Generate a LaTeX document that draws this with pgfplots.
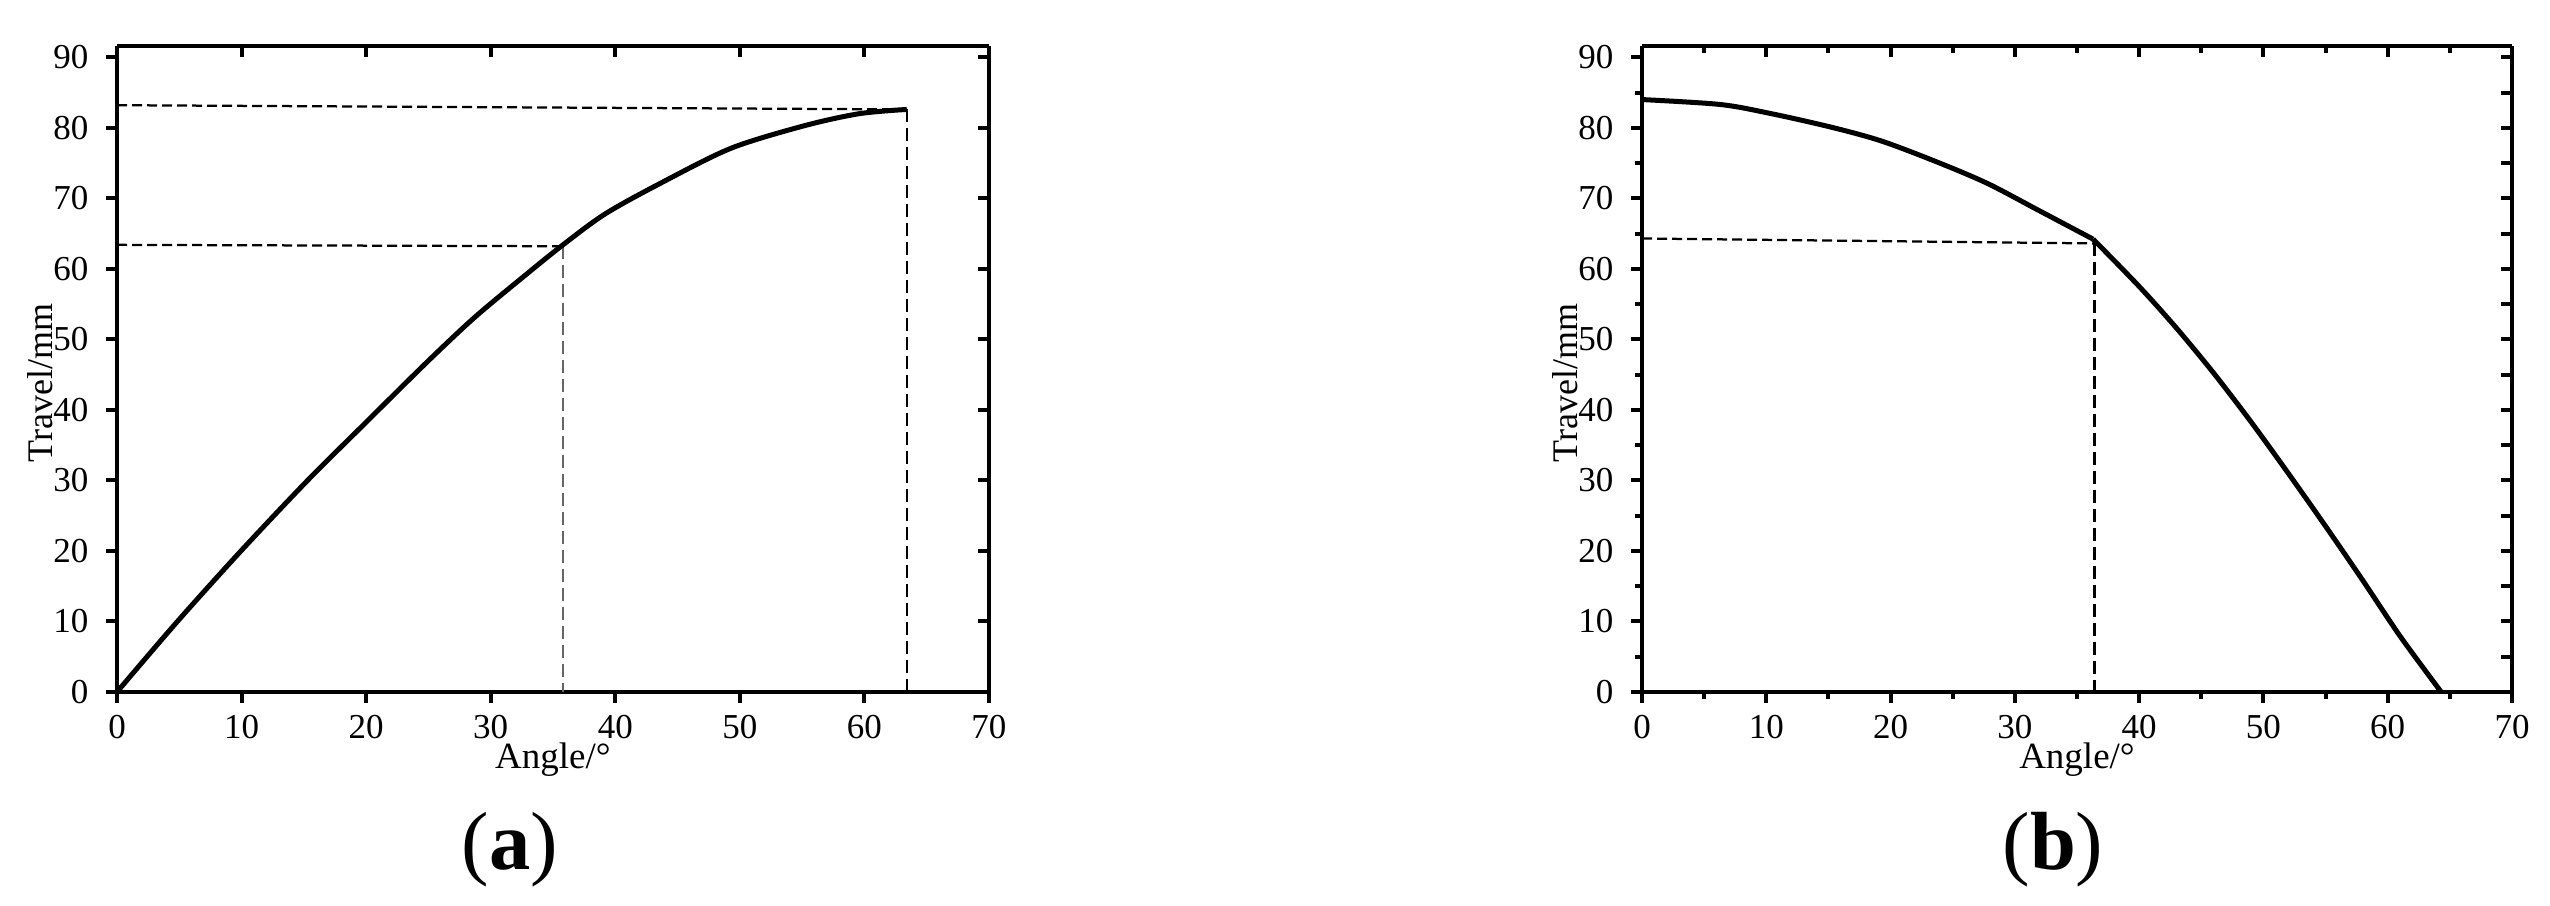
\documentclass[border=0pt]{standalone}
\usepackage{fontspec}
\setmainfont{Liberation Serif}
\usepackage{pgfplots}
\pgfplotsset{compat=1.18}

\pgfplotsset{
  base/.style={
    scale only axis, width=174.4pt, height=129.2pt,
    xmin=0, xmax=70, ymin=0, ymax=91.6,
    anchor=south west, clip=false,
    /pgf/number format/assume math mode=true,
    tick label style={font=\fontsize{7}{8}\selectfont},
    xticklabel style={yshift=1pt},
    axis line style={line width=0.8pt,-},
    every tick/.style={black, line width=0.8pt},
    major tick length=2.2pt, minor tick length=1.4pt,
    xtick={0,10,...,70}, ytick={0,10,...,90},
    every axis x label/.style={at={(axis description cs:0.5,0)}, anchor=base, yshift=-15.3pt,
      font=\fontsize{7.4}{8}\selectfont},
    every axis y label/.style={at={(axis description cs:-0.088,0.478)}, anchor=center, rotate=90,
      font=\fontsize{7.2}{8}\selectfont},
  },
  over/.style={base, axis x line*=top, axis y line*=right, tick align=inside,
    xticklabels={}, yticklabels={}},
  main/.style={base, axis x line*=bottom, axis y line*=left, tick align=outside,
    xlabel={Angle/°}, ylabel={Travel/mm}},
  curve/.style={black, line width=1pt, smooth, tension=0.5},
  dsh/.style={black, line width=0.45pt, dash pattern=on 2pt off 1pt},
  dshv/.style={black, line width=0.45pt, dash pattern=on 2.6pt off 1.2pt},
}

\begin{document}
\begin{tikzpicture}
\path[use as bounding box] (0,0) rectangle (510pt,181.2pt);

% ---------- (a)
\begin{axis}[over, at={(23.4pt,42.8pt)}]
\end{axis}
\begin{axis}[main, at={(23.4pt,42.8pt)}]
\addplot[dsh] coordinates {(0,83.2) (63.4,82.6)};
\addplot[dshv] coordinates {(63.4,82.6) (63.4,0)};
\addplot[dsh] coordinates {(0,63.4) (35.8,63.2)};
\addplot[dshv, black!60, line width=0.4pt] coordinates {(35.8,63.2) (35.8,0)};
\addplot[curve] coordinates {
(0,0) (4.75,9.8) (9.9,19.9) (15.3,30.0) (19.8,37.9) (24.9,46.8) (28.7,53.1)
(32.5,58.7) (35.8,63.4) (39.2,67.8) (43.7,72.2) (49.3,77.1)
(55.2,80.3) (59.6,82.0) (63.4,82.6)};
\end{axis}

% ---------- (b)
\begin{axis}[over, at={(328.4pt,42.8pt)}, width=174pt, minor x tick num=1, ytick={0,5,...,90}]
\end{axis}
\begin{axis}[main, at={(328.4pt,42.8pt)}, width=174pt, minor x tick num=1, minor y tick num=1]
\addplot[dsh] coordinates {(0,64.3) (36.4,63.6)};
\addplot[dshv] coordinates {(36.4,63.6) (36.4,0)};
\addplot[curve] coordinates {
(0,84.0) (6.3,83.3) (10.4,82.0) (15.3,80.05) (19.3,78.1) (23.8,75.1)
(27.8,72.1) (31.9,68.3) (36.3,64.2)};
\addplot[curve] coordinates {
(36.3,64.2) (40,57.5) (43,51.6) (46,45.2) (49,38.3) (52,31.0)
(55,23.5) (58,15.8) (61,7.9) (64.3,0)};
\end{axis}

\node[anchor=base, font=\fontsize{16.5}{20}\selectfont] at (102pt,7.2pt) {(\textbf{a})};
\node[anchor=base, font=\fontsize{16.5}{20}\selectfont] at (410.6pt,7.2pt) {(\textbf{b})};
\end{tikzpicture}
\end{document}
